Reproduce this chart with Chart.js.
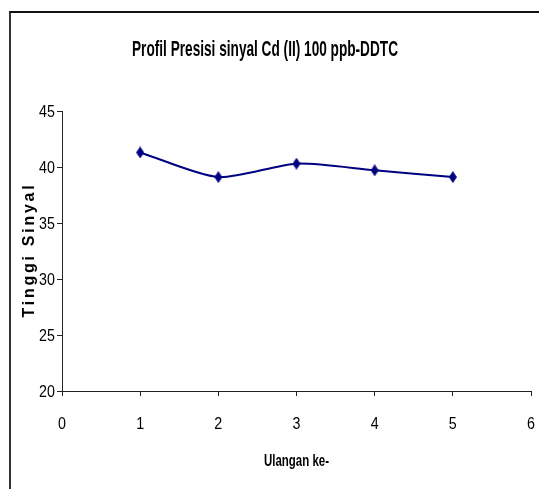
<!DOCTYPE html>
<html>
<head>
<meta charset="utf-8">
<script src="https://cdn.jsdelivr.net/npm/chart.js@4/dist/chart.umd.min.js"></script>
<style>
  body { margin: 0; background: #fff; }
  #wrap { position: relative; width: 539px; height: 489px; overflow: hidden; }
  #frame { position: absolute; left: 9px; top: 11px; width: 700px; height: 700px;
           border-top: 2px solid #111; border-left: 2px solid #333; }
  #chart { position: absolute; left: 0; top: 0; }
</style>
</head>
<body>
<div id="wrap">
  <div id="frame"></div>
  <canvas id="chart" width="539" height="489"></canvas>
</div>
<script>
// Profil presisi sinyal
const ulangan = [1, 2, 3, 4, 5];
const tinggiSinyal = [41.3, 39.1, 40.3, 39.7, 39.1];
const xTicks = [0, 1, 2, 3, 4, 5, 6];
const yTicks = [20, 25, 30, 35, 40, 45];

const chartTitle = 'Profil Presisi sinyal Cd (II) 100 ppb-DDTC';
const xTitle = 'Ulangan ke-';
const yTitle = 'Tinggi Sinyal';

const SANS = "'Liberation Sans', Arial, sans-serif";
const NAVY = '#000080';
const NARROW = 0.84; // horizontal squeeze to mimic Arial Narrow

// tall diamond marker like the Excel one
function makeDiamond() {
  const c = document.createElement('canvas');
  c.width = 8; c.height = 12;
  const ctx = c.getContext('2d');
  ctx.fillStyle = NAVY;
  ctx.beginPath();
  ctx.moveTo(4, 0);
  ctx.lineTo(8, 6);
  ctx.lineTo(4, 12);
  ctx.lineTo(0, 6);
  ctx.closePath();
  ctx.fill();
  return c;
}

// text with a horizontal squeeze, anchored by align
function narrowText(ctx, text, x, y, font, sx, align) {
  ctx.save();
  ctx.font = font;
  ctx.fillStyle = '#000';
  ctx.textAlign = align || 'center';
  ctx.textBaseline = 'middle';
  ctx.translate(x, y);
  ctx.scale(sx, 1);
  ctx.fillText(text, 0, 0);
  ctx.restore();
}

function widthOf(ctx, text, font) {
  ctx.save();
  ctx.font = font;
  const w = ctx.measureText(text).width;
  ctx.restore();
  return w;
}

const textPlugin = {
  id: 'excelText',
  afterDraw(chart) {
    const ctx = chart.ctx;
    const area = chart.chartArea;
    const xs = chart.scales.x, ys = chart.scales.y;

    // chart title, squeezed to the width it has in the original
    const tFont = 'bold 22px ' + SANS;
    narrowText(ctx, chartTitle, 265, 50, tFont, 266 / widthOf(ctx, chartTitle, tFont));

    // tick labels
    xTicks.forEach(v => narrowText(ctx, String(v), xs.getPixelForValue(v), 424, '17px ' + SANS, NARROW));
    yTicks.forEach(v => narrowText(ctx, String(v), 55, ys.getPixelForValue(v) + 1, '17px ' + SANS, NARROW, 'right'));

    // x axis title
    const xFont = 'bold 17px ' + SANS;
    narrowText(ctx, xTitle, (area.left + area.right) / 2, 461, xFont, 65 / widthOf(ctx, xTitle, xFont));

    // y axis title: plain Arial bold, letter spaced
    const yFont = 'bold 16px ' + SANS;
    const plain = widthOf(ctx, yTitle, yFont);
    ctx.save();
    ctx.font = yFont;
    ctx.fillStyle = '#000';
    ctx.textAlign = 'center';
    ctx.textBaseline = 'middle';
    ctx.letterSpacing = Math.max(0, (132 - plain) / (yTitle.length - 1)).toFixed(2) + 'px';
    ctx.translate(30, 250);
    ctx.rotate(-Math.PI / 2);
    ctx.fillText(yTitle, 0, 0);
    ctx.restore();
  }
};

const points = ulangan.map((u, i) => ({ x: u, y: tinggiSinyal[i] }));

new Chart(document.getElementById('chart'), {
  type: 'line',
  data: {
    datasets: [{
      data: points,
      borderColor: NAVY,
      backgroundColor: NAVY,
      borderWidth: 2,
      tension: 0.25,
      pointStyle: makeDiamond(),
      pointRadius: 5
    }]
  },
  options: {
    responsive: false,
    animation: false,
    layout: { padding: { left: 0, right: 0, top: 111, bottom: 0 } },
    plugins: {
      legend: { display: false },
      tooltip: { enabled: false },
      title: { display: false }
    },
    scales: {
      x: {
        type: 'linear',
        min: 0,
        max: 6,
        afterBuildTicks: s => { s.ticks = xTicks.map(v => ({ value: v })); },
        grid: { display: true, drawOnChartArea: false, drawTicks: true, tickLength: 5, color: '#222' },
        border: { display: true, color: '#222', width: 1 },
        ticks: { color: 'rgba(0,0,0,0)', font: { size: 15 }, padding: 18 },
        afterFit: s => { s.height = 98; s.paddingLeft = 0; s.paddingRight = 8; }
      },
      y: {
        min: 20,
        max: 45,
        afterBuildTicks: s => { s.ticks = yTicks.map(v => ({ value: v })); },
        grid: { display: true, drawOnChartArea: false, drawTicks: true, tickLength: 5, color: '#222' },
        border: { display: true, color: '#222', width: 1 },
        ticks: { color: 'rgba(0,0,0,0)', font: { size: 15 }, padding: 2 },
        afterFit: s => { s.width = 62; s.paddingTop = 0; s.paddingBottom = 0; }
      }
    }
  },
  plugins: [textPlugin]
});
</script>
</body>
</html>
